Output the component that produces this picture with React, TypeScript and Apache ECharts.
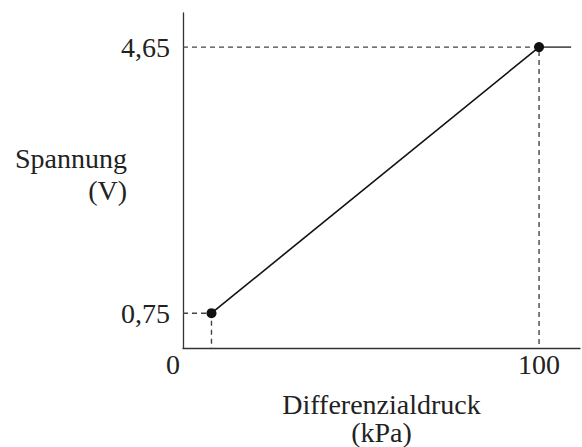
import React, { useEffect, useRef } from "react";
import * as echarts from "echarts";

// Sensor characteristic: output voltage over differential pressure
const pressureKPa = [8, 100];
const voltageV = [0.75, 4.65];
const xTickValues = [0, 100];
const yTickValues = [0.75, 4.65];

const X_MIN = 0;
const X_MAX = 111.5;
const Y_MIN = 0.24;
const Y_MAX = 5.15;
const X_EXTEND = 109; // end of the upper reference line

const FONT = "'Liberation Serif', 'Times New Roman', serif";
const FS = 28;

export default function App() {
  const ref = useRef<HTMLDivElement | null>(null);

  useEffect(() => {
    if (!ref.current) return;
    const chart = echarts.init(ref.current, undefined, { renderer: "svg" });

    const pts = pressureKPa.map((x, i) => [x, voltageV[i]]);
    const [p0, p1] = pts;
    const dash = { color: "#444", width: 1.4, type: [5, 4] as number[] };
    const txt = { fontFamily: FONT, fontSize: FS, color: "#222" };

    chart.setOption({
      animation: false,
      backgroundColor: "#fff",
      grid: {
        left: 183,
        top: 13,
        right: 2,
        bottom: 99,
        containLabel: false,
        outerBoundsMode: "none",
      },
      xAxis: {
        type: "value",
        min: X_MIN,
        max: X_MAX,
        name: "Differenzialdruck\n(kPa)",
        nameLocation: "middle",
        nameGap: 42,
        nameMoveOverlap: false,
        nameTextStyle: { ...txt, lineHeight: 28 },
        axisLine: { show: true, onZero: false, lineStyle: { color: "#333", width: 1.3 } },
        axisTick: { show: false },
        splitLine: { show: false },
        axisLabel: {
          customValues: xTickValues,
          margin: 2,
          ...txt,
          formatter: (v: number) => (v === 0 ? "{o|0}" : String(v)),
          rich: { o: { ...txt, padding: [0, 20, 0, 0] } },
        },
      },
      yAxis: {
        type: "value",
        min: Y_MIN,
        max: Y_MAX,
        // the short last line lifts the two-line title a little above the axis middle
        name: "{s|Spannung}\n{s|(V)}\n{g| }",
        nameLocation: "middle",
        nameRotate: 0,
        nameGap: 56,
        nameMoveOverlap: false,
        nameTextStyle: {
          ...txt,
          align: "right",
          rich: {
            s: { ...txt, lineHeight: 32 },
            g: { fontSize: 1, lineHeight: 13 },
          },
        },
        axisLine: { show: true, onZero: false, lineStyle: { color: "#333", width: 1.3 } },
        axisTick: { show: false },
        splitLine: { show: false },
        axisLabel: {
          customValues: yTickValues,
          margin: 13,
          ...txt,
          formatter: (v: number) => v.toFixed(2).replace(".", ","),
        },
      },
      series: [
        // dashed guides from the axes to the two measured points
        {
          type: "line",
          data: [[X_MIN, p0[1]], p0, [p0[0], Y_MIN]],
          symbol: "none",
          lineStyle: dash,
          silent: true,
          z: 1,
        },
        {
          type: "line",
          data: [[X_MIN, p1[1]], p1, [p1[0], Y_MIN]],
          symbol: "none",
          lineStyle: dash,
          silent: true,
          z: 1,
        },
        // solid continuation of the upper level line
        {
          type: "line",
          data: [p1, [X_EXTEND, p1[1]]],
          symbol: "none",
          lineStyle: { color: "#555", width: 1.6 },
          silent: true,
          z: 1,
        },
        // characteristic line
        {
          type: "line",
          data: pts,
          symbol: "circle",
          symbolSize: 10,
          showAllSymbol: true,
          itemStyle: { color: "#111" },
          lineStyle: { color: "#111", width: 1.6 },
          z: 3,
        },
      ],
    });

    return () => chart.dispose();
  }, []);

  return (
    <div
      ref={ref}
      style={{ position: "absolute", left: 0, top: 0, width: 582, height: 447 }}
    />
  );
}
